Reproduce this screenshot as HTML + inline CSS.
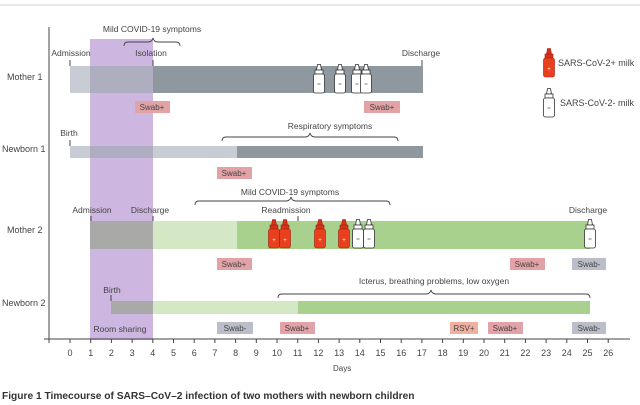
<!DOCTYPE html>
<html><head><style>
body{margin:0;background:#fff;}
svg{display:block;font-family:"Liberation Sans",sans-serif;}
.t{font-size:9px;fill:#444;}
.s{font-size:8.5px;fill:#444;text-anchor:middle;}
</style></head><body>
<svg width="640" height="405" viewBox="0 0 640 405" xmlns="http://www.w3.org/2000/svg">
<defs>
<g id="bw"><path d="M-1.5,0.5 L1.5,0.5 L2.5,6 L-2.5,6 Z" fill="#fff" stroke="#333" stroke-width="0.8"/><rect x="-4" y="6" width="8" height="4" fill="#fff" stroke="#333" stroke-width="0.8"/><rect x="-5.5" y="10" width="11" height="19" rx="2" fill="#fff" stroke="#333" stroke-width="0.8"/><line x1="-1.5" y1="20" x2="1.5" y2="20" stroke="#555" stroke-width="0.8"/></g>
<g id="br"><path d="M-1.5,0.5 L1.5,0.5 L2.5,6 L-2.5,6 Z" fill="#d9301a" stroke="#a02010" stroke-width="0.6"/><rect x="-4" y="6" width="8" height="4" fill="#d9301a" stroke="#a02010" stroke-width="0.6"/><rect x="-5.5" y="10" width="11" height="19" rx="2" fill="#e8401e" stroke="#a02010" stroke-width="0.6"/><text x="0" y="23" font-size="6" fill="#fff" text-anchor="middle">+</text></g>
</defs>
<line x1="0" y1="5" x2="640" y2="5" stroke="#e2e2e2" stroke-width="1.5"/>
<rect x="90" y="39" width="63" height="301" fill="#cdb6e0"/>
<rect x="70" y="66" width="83" height="27" fill="#c7ccd5"/>
<rect x="90" y="66" width="63" height="27" fill="#a9a6bb" opacity="0.8"/>
<rect x="153" y="66" width="270" height="27" fill="#8f989f"/>
<rect x="70" y="146" width="167" height="12" fill="#c7ccd5"/>
<rect x="90" y="146" width="63" height="12" fill="#a9a6bb" opacity="0.8"/>
<rect x="237" y="146" width="186" height="12" fill="#8f989f"/>
<rect x="90" y="221" width="63" height="28" fill="#a9aaa8"/>
<rect x="153" y="221" width="84" height="28" fill="#d5e8c6"/>
<rect x="237" y="221" width="353" height="28" fill="#a8d18d"/>
<rect x="111" y="301" width="42" height="13" fill="#a9aaa8"/>
<rect x="153" y="301" width="145" height="13" fill="#d5e8c6"/>
<rect x="298" y="301" width="292" height="13" fill="#a8d18d"/>
<line x1="49" y1="27" x2="49" y2="340" stroke="#444" stroke-width="1"/>
<line x1="44" y1="339" x2="630" y2="339" stroke="#444" stroke-width="1"/>
<g stroke="#444" stroke-width="1">
<line x1="49" y1="339" x2="49" y2="343"/>
<line x1="70" y1="339" x2="70" y2="343"/><line x1="90.7" y1="339" x2="90.7" y2="343"/><line x1="111.4" y1="339" x2="111.4" y2="343"/><line x1="132.1" y1="339" x2="132.1" y2="343"/><line x1="152.8" y1="339" x2="152.8" y2="343"/><line x1="173.5" y1="339" x2="173.5" y2="343"/><line x1="194.2" y1="339" x2="194.2" y2="343"/><line x1="214.9" y1="339" x2="214.9" y2="343"/><line x1="235.6" y1="339" x2="235.6" y2="343"/><line x1="256.3" y1="339" x2="256.3" y2="343"/><line x1="277" y1="339" x2="277" y2="343"/><line x1="297.7" y1="339" x2="297.7" y2="343"/><line x1="318.4" y1="339" x2="318.4" y2="343"/><line x1="339.1" y1="339" x2="339.1" y2="343"/><line x1="359.8" y1="339" x2="359.8" y2="343"/><line x1="380.5" y1="339" x2="380.5" y2="343"/><line x1="401.2" y1="339" x2="401.2" y2="343"/><line x1="421.9" y1="339" x2="421.9" y2="343"/><line x1="442.6" y1="339" x2="442.6" y2="343"/><line x1="463.3" y1="339" x2="463.3" y2="343"/><line x1="484" y1="339" x2="484" y2="343"/><line x1="504.7" y1="339" x2="504.7" y2="343"/><line x1="525.4" y1="339" x2="525.4" y2="343"/><line x1="546.1" y1="339" x2="546.1" y2="343"/><line x1="566.8" y1="339" x2="566.8" y2="343"/><line x1="587.5" y1="339" x2="587.5" y2="343"/><line x1="608.2" y1="339" x2="608.2" y2="343"/>
</g>
<g class="s" style="font-size:9px">
<text x="70" y="356">0</text><text x="90.7" y="356">1</text><text x="111.4" y="356">2</text><text x="132.1" y="356">3</text><text x="152.8" y="356">4</text><text x="173.5" y="356">5</text><text x="194.2" y="356">6</text><text x="214.9" y="356">7</text><text x="235.6" y="356">8</text><text x="256.3" y="356">9</text><text x="277" y="356">10</text><text x="297.7" y="356">11</text><text x="318.4" y="356">12</text><text x="339.1" y="356">13</text><text x="359.8" y="356">14</text><text x="380.5" y="356">15</text><text x="401.2" y="356">16</text><text x="421.9" y="356">17</text><text x="442.6" y="356">18</text><text x="463.3" y="356">19</text><text x="484" y="356">20</text><text x="504.7" y="356">21</text><text x="525.4" y="356">22</text><text x="546.1" y="356">23</text><text x="566.8" y="356">24</text><text x="587.5" y="356">25</text><text x="608.2" y="356">26</text>
</g>
<text class="t" x="333" y="371" style="font-size:8px">Days</text>
<text class="t" x="7" y="80">Mother 1</text>
<text class="t" x="2" y="152">Newborn 1</text>
<text class="t" x="7" y="233">Mother 2</text>
<text class="t" x="2" y="306">Newborn 2</text>
<g stroke="#444" stroke-width="1">
<line x1="70" y1="60" x2="70" y2="66"/><line x1="153" y1="60" x2="153" y2="66"/><line x1="422" y1="60" x2="422" y2="66"/>
<line x1="70" y1="140" x2="70" y2="146"/>
<line x1="91" y1="216" x2="91" y2="221"/><line x1="153" y1="216" x2="153" y2="221"/><line x1="298" y1="216" x2="298" y2="221"/>
<line x1="111" y1="295" x2="111" y2="301"/>
</g>
<text class="s" x="152" y="32">Mild COVID-19 symptoms</text>
<path d="M124,46 Q124,42 128,42 L148,42 Q152,42 153,38 Q154,42 158,42 L176,42 Q180,42 180,46" fill="none" stroke="#444" stroke-width="0.9"/>
<text class="s" x="71" y="56">Admission</text>
<text class="s" x="151" y="56">Isolation</text>
<text class="s" x="421" y="56">Discharge</text>
<text class="s" x="330" y="129">Respiratory symptoms</text>
<path d="M222,141 Q222,137 226,137 L305,137 Q309,137 310,133 Q311,137 315,137 L394,137 Q398,137 398,141" fill="none" stroke="#444" stroke-width="0.9"/>
<text class="s" x="69" y="136">Birth</text>
<text class="s" x="290" y="195">Mild COVID-19 symptoms</text>
<path d="M195,205 Q195,201 199,201 L286,201 Q290,201 291,197 Q292,201 296,201 L386,201 Q390,201 390,205" fill="none" stroke="#444" stroke-width="0.9"/>
<text class="s" x="92" y="213">Admission</text>
<text class="s" x="150" y="213">Discharge</text>
<text class="s" x="286" y="213">Readmission</text>
<text class="s" x="588" y="213">Discharge</text>
<text class="s" x="112" y="293">Birth</text>
<text class="s" x="434" y="284">Icterus, breathing problems, low oxygen</text>
<path d="M278,298 Q278,294 282,294 L426,294 Q430,294 431,290 Q432,294 436,294 L586,294 Q590,294 590,298" fill="none" stroke="#444" stroke-width="0.9"/>
<text class="s" x="120" y="332">Room sharing</text>
<g font-size="8" text-anchor="middle">
<rect x="135" y="101" width="35" height="12" fill="#e3a3a6"/><text x="152" y="110" fill="#444">Swab+</text>
<rect x="364" y="101" width="36" height="12" fill="#e3a3a6"/><text x="382" y="110" fill="#444">Swab+</text>
<rect x="217" y="167" width="35" height="12" fill="#e3a3a6"/><text x="234" y="176" fill="#444">Swab+</text>
<rect x="217" y="258" width="35" height="12" fill="#e3a3a6"/><text x="234" y="267" fill="#444">Swab+</text>
<rect x="510" y="258" width="35" height="12" fill="#e3a3a6"/><text x="527" y="267" fill="#444">Swab+</text>
<rect x="572" y="258" width="34" height="12" fill="#b9bec9"/><text x="589" y="267" fill="#444">Swab-</text>
<rect x="217" y="322" width="36" height="12" fill="#b9bec9"/><text x="235" y="331" fill="#444">Swab-</text>
<rect x="280" y="322" width="35" height="12" fill="#e3a3a6"/><text x="297" y="331" fill="#444">Swab+</text>
<rect x="450" y="322" width="28" height="12" fill="#f0b0a0"/><text x="464" y="331" fill="#444">RSV+</text>
<rect x="488" y="322" width="35" height="12" fill="#e3a3a6"/><text x="505" y="331" fill="#444">Swab+</text>
<rect x="572" y="322" width="34" height="12" fill="#b9bec9"/><text x="589" y="331" fill="#444">Swab-</text>
</g>
<use href="#bw" x="319" y="64"/><use href="#bw" x="340" y="64"/><use href="#bw" x="357" y="64"/><use href="#bw" x="366" y="64"/>
<use href="#br" x="274" y="219"/><use href="#br" x="285" y="219"/><use href="#br" x="320" y="219"/><use href="#br" x="344" y="219"/>
<use href="#bw" x="358" y="219"/><use href="#bw" x="369" y="219"/>
<use href="#bw" x="590" y="219"/>
<use href="#br" x="549" y="48"/>
<text class="t" x="558" y="66">SARS-CoV-2+ milk</text>
<use href="#bw" x="549" y="88"/>
<text class="t" x="560" y="106">SARS-CoV-2- milk</text>
<text x="2" y="399" font-size="10.2" font-weight="bold" fill="#333">Figure 1 Timecourse of SARS–CoV–2 infection of two mothers with newborn children</text>
</svg>
</body></html>
